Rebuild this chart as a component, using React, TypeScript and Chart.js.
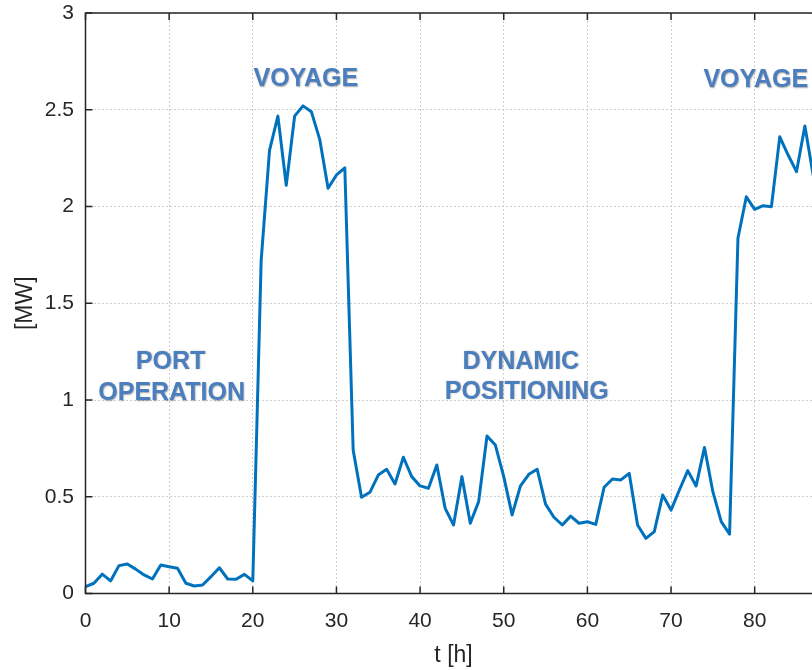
import React, { useEffect, useRef } from 'react';
import { Chart, registerables } from 'chart.js';

Chart.register(...registerables);

// Power demand [MW], one sample per hour (t = 0 .. 88 h)
const power: number[] = [
  0.035, 0.053, 0.100, 0.065, 0.144, 0.152, 0.126, 0.096, 0.075, 0.147,
  0.138, 0.130, 0.053, 0.039, 0.044, 0.087, 0.133, 0.075, 0.074, 0.099,
  0.065, 1.720, 2.290, 2.467, 2.110, 2.467, 2.520, 2.490, 2.347, 2.094,
  2.163, 2.200, 0.740, 0.497, 0.523, 0.612, 0.642, 0.566, 0.704, 0.604,
  0.556, 0.544, 0.664, 0.440, 0.354, 0.604, 0.363, 0.475, 0.814, 0.767,
  0.604, 0.406, 0.556, 0.616, 0.642, 0.462, 0.394, 0.354, 0.400, 0.363,
  0.371, 0.357, 0.549, 0.592, 0.587, 0.621, 0.354, 0.285, 0.320, 0.509,
  0.431, 0.535, 0.635, 0.556, 0.755, 0.526, 0.371, 0.307, 1.836, 2.050,
  1.985, 2.004, 1.999, 2.360, 2.266, 2.180, 2.416, 2.160, 2.200,
];
const hours: number[] = power.map((_, i) => i);

const xTickValues: number[] = [0, 10, 20, 30, 40, 50, 60, 70, 80];
const yTickValues: number[] = [0, 0.5, 1, 1.5, 2, 2.5, 3];

const annotationTexts: string[] = ['VOYAGE', 'PORT', 'OPERATION', 'DYNAMIC', 'POSITIONING', 'VOYAGE'];
const annotationX: number[] = [26.34, 10.16, 10.3, 52.04, 52.74, 80.13];
const annotationY: number[] = [2.668, 1.207, 1.043, 1.207, 1.052, 2.663];

const FONT = '"Liberation Sans", Arial, Helvetica, sans-serif';
const AXIS_COLOR = '#262626';

const matlabBox = {
  id: 'matlabBox',
  afterDatasetsDraw(chart: any) {
    const { ctx, chartArea: a, scales } = chart;
    const xs = scales.x;
    const ys = scales.y;
    ctx.save();
    // annotations
    const fs = 25;
    ctx.font = `bold ${fs}px ${FONT}`;
    ctx.textAlign = 'center';
    ctx.textBaseline = 'alphabetic';
    ctx.fillStyle = '#4a7ebf';
    ctx.shadowColor = 'rgba(60,60,60,0.45)';
    ctx.shadowBlur = 1.5;
    ctx.shadowOffsetX = 0.7;
    ctx.shadowOffsetY = 0.7;
    annotationTexts.forEach((t, i) => {
      const px = xs.getPixelForValue(annotationX[i]);
      const py = ys.getPixelForValue(annotationY[i]) + 0.35 * fs;
      ctx.fillText(t, px, py);
    });
    ctx.shadowColor = 'transparent';
    ctx.shadowBlur = 0;
    ctx.shadowOffsetX = 0;
    ctx.shadowOffsetY = 0;
    // box
    ctx.strokeStyle = AXIS_COLOR;
    ctx.lineWidth = 1.5;
    ctx.beginPath();
    ctx.rect(a.left, a.top, a.right - a.left, a.bottom - a.top);
    ctx.stroke();
    // inward ticks
    const tl = 7;
    ctx.beginPath();
    for (const t of xTickValues) {
      const px = xs.getPixelForValue(t);
      ctx.moveTo(px, a.bottom);
      ctx.lineTo(px, a.bottom - tl);
      ctx.moveTo(px, a.top);
      ctx.lineTo(px, a.top + tl);
    }
    for (const t of yTickValues) {
      const py = ys.getPixelForValue(t);
      ctx.moveTo(a.left, py);
      ctx.lineTo(a.left + tl, py);
      ctx.moveTo(a.right, py);
      ctx.lineTo(a.right - tl, py);
    }
    ctx.stroke();
    ctx.restore();
  },
};

export default function App() {
  const ref = useRef<HTMLCanvasElement | null>(null);

  useEffect(() => {
    const canvas = ref.current;
    if (!canvas) return;
    const W = 840;
    const H = 670;
    const plotLeft = 85.5;
    const plotTop = 13;
    const plotBottom = 593.5;
    const plotRight = 821.6;
    const chart = new Chart(canvas, {
      type: 'line',
      data: {
        datasets: [
          {
            data: hours.map((h, i) => ({ x: h, y: power[i] })),
            borderColor: '#0072BD',
            borderWidth: 3,
            pointRadius: 0,
            tension: 0,
            fill: false,
            borderJoinStyle: 'round',
          },
        ],
      },
      options: {
        responsive: false,
        animation: false,
        devicePixelRatio: 1,
        layout: { padding: { left: 0, top: plotTop, right: W - plotRight, bottom: 0 } },
        plugins: { legend: { display: false }, tooltip: { enabled: false } },
        scales: {
          x: {
            type: 'linear',
            min: 0,
            max: 88,
            ticks: {
              stepSize: 10,
              includeBounds: false,
              color: AXIS_COLOR,
              font: { family: FONT, size: 21 },
              padding: 15,
              maxRotation: 0,
              callback: (v: any) => String(v),
            },
            grid: { color: '#cdcdcd', lineWidth: 1, drawTicks: false },
            border: { display: false, dash: [2, 2] },
            title: {
              display: true,
              text: 't [h]',
              color: AXIS_COLOR,
              font: { family: FONT, size: 23 },
              padding: { top: 0, bottom: 1 },
            },
            afterFit: (s: any) => {
              s.height = H - plotBottom;
              s.paddingLeft = 0;
              s.paddingRight = 0;
            },
          },
          y: {
            type: 'linear',
            min: 0,
            max: 3,
            ticks: {
              stepSize: 0.5,
              color: AXIS_COLOR,
              font: { family: FONT, size: 21 },
              padding: 11.5,
              callback: (v: any) => String(v),
            },
            grid: { color: '#cdcdcd', lineWidth: 1, drawTicks: false },
            border: { display: false, dash: [2, 2] },
            title: {
              display: true,
              text: '[MW]',
              color: AXIS_COLOR,
              font: { family: FONT, size: 23 },
              padding: { top: 12, bottom: 0 },
            },
            afterFit: (s: any) => {
              s.width = plotLeft;
              s.paddingTop = 0;
              s.paddingBottom = 0;
            },
          },
        },
      },
      plugins: [matlabBox],
    } as any);
    return () => chart.destroy();
  }, []);

  return (
    <div
      style={{
        position: 'fixed',
        left: 0,
        top: 0,
        width: 812,
        height: 670,
        overflow: 'hidden',
        background: '#ffffff',
      }}
    >
      <canvas ref={ref} width={840} height={670} style={{ display: 'block', width: 840, height: 670 }} />
    </div>
  );
}
